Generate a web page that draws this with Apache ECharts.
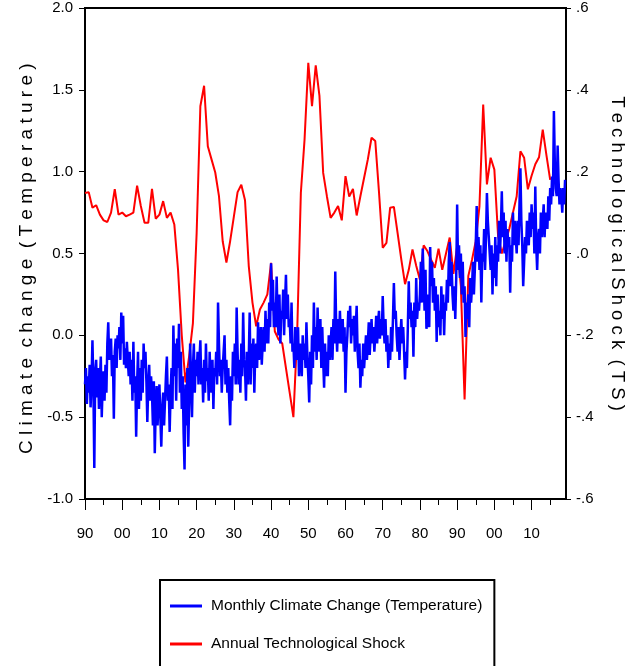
<!DOCTYPE html>
<html><head><meta charset="utf-8">
<script src="https://cdn.jsdelivr.net/npm/echarts@6/dist/echarts.min.js"></script>
<style>html,body{margin:0;padding:0;background:#fff}#c{width:641px;height:666px}</style>
</head><body><div id="c"></div>
<script>
// ---------- DATA ----------
// Monthly climate change (temperature anomaly) (about 4 readings per year), by decade
const temp1890s = [-0.30,-0.20,-0.42,-0.25, -0.35,-0.18,-0.44,-0.28, -0.03,-0.30,-0.81,-0.22, -0.15,-0.38,-0.20,-0.45, -0.28,-0.13,-0.50,-0.30,
                   -0.22,-0.40,-0.18,-0.35, -0.05,0.08,-0.15,-0.10, -0.02,-0.25,-0.12,-0.51, -0.10,-0.02,-0.20,0.00, -0.08,0.05,-0.15,0.14];
const temp1900s = [-0.05,0.12,-0.18,-0.08, -0.20,-0.04,-0.15,-0.25, -0.10,-0.30,-0.15,-0.40, -0.04,-0.35,-0.25,-0.62, -0.30,-0.10,-0.45,-0.20,
                   -0.40,-0.15,-0.35,-0.05, -0.20,-0.10,-0.28,-0.53, -0.30,-0.18,-0.40,-0.25, -0.35,-0.55,-0.28,-0.72, -0.45,-0.31,-0.55,-0.40];
const temp1910s = [-0.30,-0.50,-0.68,-0.45, -0.35,-0.55,-0.40,-0.25, -0.13,-0.40,-0.30,-0.59, -0.35,-0.20,-0.45,0.06, -0.25,-0.05,-0.40,-0.02,
                   -0.20,0.07,-0.35,-0.10, -0.45,-0.25,-0.60,-0.82, -0.30,-0.55,-0.20,-0.68, -0.40,-0.05,-0.25,-0.50, -0.20,-0.05,-0.35,-0.15];
const temp1920s = [-0.25,-0.10,-0.30,-0.15, -0.03,-0.30,-0.20,-0.41, -0.15,-0.35,-0.05,-0.28, -0.20,-0.40,-0.10,-0.30, -0.35,-0.15,-0.45,-0.20,
                   -0.25,-0.10,-0.30,0.20, -0.05,-0.25,-0.15,-0.35, -0.20,-0.10,0.00,-0.30, -0.15,-0.35,-0.20,-0.40, -0.55,-0.25,-0.40,-0.10];
const temp1930s = [-0.25,-0.05,-0.30,0.17, -0.10,-0.30,-0.15,-0.35, -0.05,-0.25,0.14,-0.15, -0.20,-0.40,-0.10,-0.30, -0.15,0.14,-0.30,-0.05,
                   -0.20,-0.02,-0.35,-0.10, -0.05,-0.20,0.08,-0.15, -0.10,0.05,-0.18,-0.05, 0.05,-0.10,0.15,-0.05, 0.10,-0.05,0.20,0.05];
const temp1940s = [0.44,0.15,0.34,0.05, 0.20,0.05,0.36,0.10, 0.00,0.25,-0.05,0.15, 0.10,0.28,0.00,0.20, 0.37,0.10,0.25,0.05,
                   0.10,-0.05,0.20,-0.10, -0.05,-0.20,0.05,-0.15, -0.10,0.05,-0.25,-0.05, -0.10,-0.25,0.00,-0.15, -0.05,-0.20,0.08,-0.12];
const temp1950s = [-0.25,-0.41,-0.10,-0.30, 0.00,-0.20,0.20,-0.10, 0.05,-0.15,0.17,-0.05, -0.10,0.10,-0.20,0.05, -0.15,-0.32,-0.05,-0.25,
                   -0.10,-0.25,0.00,-0.15, -0.05,0.05,-0.15,0.10, -0.05,0.39,0.05,-0.10, 0.10,-0.05,0.15,-0.02, -0.05,0.10,-0.10,0.05];
const temp1960s = [-0.35,-0.10,0.00,0.15, 0.05,0.18,-0.05,0.10, 0.00,0.12,-0.10,0.05, 0.18,-0.10,-0.20,-0.05, -0.32,-0.15,-0.25,-0.05,
                   -0.20,-0.10,0.00,-0.15, -0.05,0.08,-0.12,0.00, 0.10,-0.05,0.05,-0.10, 0.00,0.12,-0.05,0.08, 0.15,-0.02,0.10,0.00];
const temp1970s = [0.24,0.05,-0.05,0.10, -0.10,0.00,-0.20,-0.05, -0.15,0.05,-0.10,0.10, 0.32,0.10,0.15,0.00, -0.10,0.05,-0.15,0.00,
                   0.10,-0.05,0.05,-0.10, -0.27,-0.10,-0.20,0.05, 0.33,0.10,0.20,0.05, 0.15,-0.13,0.20,0.05, 0.35,0.10,0.20,0.15];
const temp1980s = [0.25,0.45,0.20,0.53, 0.35,0.15,0.40,0.04, 0.10,0.25,0.05,0.54, 0.30,0.45,0.20,0.35, 0.15,0.30,-0.04,0.25,
                   0.05,0.15,0.00,0.30, 0.10,0.25,0.00,0.20, 0.15,0.34,0.20,0.45, 0.57,0.30,0.45,0.25, 0.15,0.30,0.10,0.35];
const temp1990s = [0.80,0.40,0.55,0.35, 0.50,0.25,0.45,0.20, 0.30,-0.01,0.20,0.10, 0.25,0.05,0.35,0.20, 0.30,0.45,0.25,0.40,
                   0.55,0.79,0.45,0.60, 0.40,0.55,0.20,0.50, 0.45,0.65,0.40,0.60, 0.87,0.70,0.60,0.50, 0.40,0.55,0.25,0.50];
const temp2000s = [0.35,0.60,0.30,0.55, 0.45,0.70,0.50,0.65, 0.88,0.60,0.75,0.50, 0.70,0.45,0.65,0.55, 0.60,0.26,0.55,0.45,
                   0.75,0.55,0.70,0.60, 0.50,0.70,0.55,0.80, 1.02,0.70,0.55,0.30, 0.45,0.60,0.50,0.70, 0.65,0.55,0.75,0.60];
const temp2010s = [0.80,0.65,0.75,0.50, 0.91,0.55,0.40,0.60, 0.65,0.50,0.75,0.60, 0.70,0.80,0.60,0.75, 0.75,0.65,0.85,0.70,
                   0.90,0.80,0.97,0.85, 1.37,1.05,0.90,0.85, 1.16,0.95,0.80,0.90, 0.85,0.75,0.90,0.80, 0.95];
const tempDecades = [1890,1900,1910,1920,1930,1940,1950,1960,1970,1980,1990,2000,2010];
const tempByDecade = [temp1890s,temp1900s,temp1910s,temp1920s,temp1930s,temp1940s,temp1950s,temp1960s,temp1970s,temp1980s,temp1990s,temp2000s,temp2010s];
const readingsPerYear = 4;

// Annual technological shock (right axis), one value per year from 1890
const shockStartYear = 1890;
const shockValues = [
  0.148,0.150,0.112,0.118,0.095,0.081,0.077,0.100,0.157,0.095,
  0.100,0.091,0.095,0.100,0.166,0.116,0.075,0.075,0.158,0.085,
  0.095,0.128,0.087,0.100,0.071,-0.040,-0.200,-0.315,-0.250,-0.170,
  0.050,0.360,0.410,0.262,0.230,0.198,0.140,0.030,-0.022,0.030,
  0.090,0.150,0.168,0.130,-0.030,-0.120,-0.178,-0.137,-0.120,-0.100,
  -0.023,-0.190,-0.210,-0.220,-0.280,-0.340,-0.400,-0.200,0.148,0.279,
  0.466,0.360,0.460,0.385,0.197,0.140,0.087,0.100,0.116,0.081,
  0.189,0.139,0.158,0.093,0.140,0.185,0.230,0.283,0.275,0.150,
  0.014,0.026,0.112,0.114,0.050,-0.015,-0.075,-0.040,0.010,-0.030,
  -0.064,0.020,0.006,-0.015,-0.035,0.012,-0.040,0.000,0.039,-0.050,
  0.018,-0.080,-0.357,-0.055,-0.015,0.030,0.116,0.364,0.169,0.234,
  0.205,0.042,0.000,0.030,0.060,0.100,0.140,0.250,0.234,0.157,
  0.190,0.218,0.235,0.303,0.240,0.180
];

// Axis ticks
const xMajorTicks = [1890,1900,1910,1920,1930,1940,1950,1960,1970,1980,1990,2000,2010];
const xMinorTicks = [1895,1905,1915,1925,1935,1945,1955,1965,1975,1985,1995,2005,2015];
const xRange = [1890, 2019.25];
const leftRange = [-1.0, 2.0];
const rightRange = [-0.6, 0.6];

const names = ['Monthly Climate Change (Temperature)', 'Annual Technological Shock'];
const leftTitle = 'C l i m a t e  c h a n g e  ( T e m p e r a t u r e )  ';
const rightTitle = 'T e c h n o l o g i c a l S h o c k  ( T S )';

// ---------- BUILD ----------
const FONT = "'Liberation Sans', Arial, sans-serif";
const tempData = [];
tempByDecade.forEach((arr, d) => arr.forEach((v, i) => tempData.push([tempDecades[d] + i / readingsPerYear, v])));
const shockData = shockValues.map((v, i) => [shockStartYear + i, v]);

const chart = echarts.init(document.getElementById('c'), null, {renderer: 'canvas'});
const black = '#000';
chart.setOption({
  animation: false,
  backgroundColor: '#fff',
  grid: {left: 85, right: 75, top: 8, bottom: 167, show: true, borderColor: black, borderWidth: 2, backgroundColor: 'transparent'},
  legend: {
    data: names, orient: 'vertical', left: 160, top: 580, height: 140,
    icon: 'rect', itemWidth: 32, itemHeight: 3, itemGap: 22,
    padding: [18, 12, 22, 10], borderColor: black, borderWidth: 2,
    textStyle: {fontFamily: FONT, fontSize: 15.5, color: black, padding: [0, 0, 0, 4]}
  },
  xAxis: [
    {type: 'value', min: xRange[0], max: xRange[1], position: 'bottom',
     axisLine: {show: true, onZero: false, lineStyle: {color: black, width: 2}},
     axisTick: {show: true, length: 6, customValues: xMinorTicks, lineStyle: {color: black, width: 1}},
     axisLabel: {show: false}, splitLine: {show: false}},
    {type: 'value', min: xRange[0], max: xRange[1], position: 'bottom', gridIndex: 0,
     axisLine: {show: false, onZero: false},
     axisTick: {show: true, length: 11, customValues: xMajorTicks, lineStyle: {color: black, width: 1}},
     axisLabel: {show: true, customValues: xMajorTicks, margin: 27, fontFamily: FONT, fontSize: 15, color: black,
       formatter: v => String(Math.round(v) % 100).padStart(2, '0')},
     splitLine: {show: false}}
  ],
  yAxis: [
    {type: 'value', position: 'left', min: leftRange[0], max: leftRange[1], interval: 0.5,
     axisLine: {show: true, onZero: false, lineStyle: {color: black, width: 2}},
     axisTick: {show: true, length: 6, lineStyle: {color: black}},
     axisLabel: {margin: 12, fontFamily: FONT, fontSize: 15, color: black, formatter: v => v.toFixed(1)},
     splitLine: {show: false},
     name: leftTitle, nameLocation: 'middle', nameGap: 41, nameRotate: 90,
     nameTextStyle: {fontFamily: FONT, fontSize: 19, color: black}},
    {type: 'value', position: 'right', min: rightRange[0], max: rightRange[1], interval: 0.2,
     axisLine: {show: true, onZero: false, lineStyle: {color: black, width: 2}},
     axisTick: {show: true, length: 5, lineStyle: {color: black}},
     axisLabel: {margin: 10, fontFamily: FONT, fontSize: 15, color: black,
       formatter: v => { const s = (Math.round(v * 10) / 10).toFixed(1); return s.replace(/^(-?)0\./, '$1.'); }},
     splitLine: {show: false},
     name: rightTitle, nameLocation: 'middle', nameGap: 42, nameRotate: -90,
     nameTextStyle: {fontFamily: FONT, fontSize: 18.5, color: black}}
  ],
  series: [
    {name: names[0], type: 'line', xAxisIndex: 0, yAxisIndex: 0, data: tempData, showSymbol: false, z: 3,
     lineStyle: {color: '#0000ff', width: 2.5}, itemStyle: {color: '#0000ff'}},
    {name: names[1], type: 'line', xAxisIndex: 0, yAxisIndex: 1, data: shockData, showSymbol: false, z: 2,
     lineStyle: {color: '#ff0000', width: 2}, itemStyle: {color: '#ff0000'}}
  ]
});
</script></body></html>
